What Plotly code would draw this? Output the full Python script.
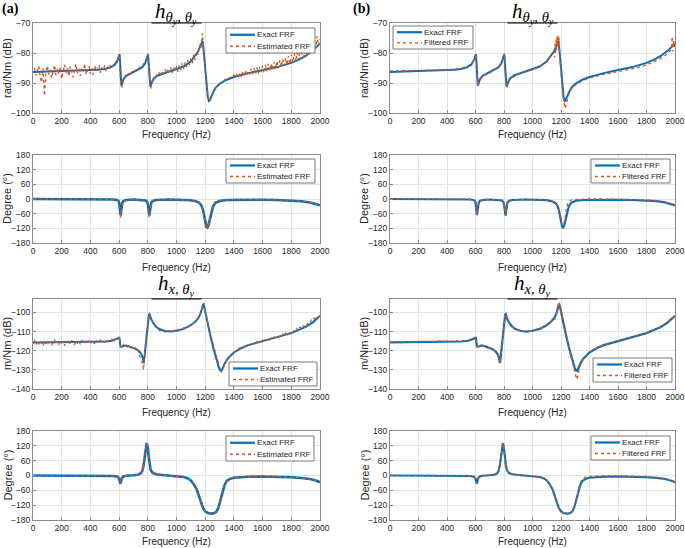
import plotly.graph_objects as go

W, H = 685, 548

# ---------------- data ----------------
# noisy estimate sampling grid (Hz)
freq_grid = [
    10, 20, 30, 40, 50, 60, 70, 80, 90, 100, 110, 120, 130, 140, 150, 160, 170, 180, 190, 200,
    210, 220, 230, 240, 250, 260, 270, 280, 290, 300, 310, 320, 330, 340, 350, 360, 370, 380, 390, 400,
    410, 420, 430, 440, 450, 460, 470, 480, 490, 500, 510, 520, 530, 540, 550, 560, 570, 580, 590, 600,
    610, 620, 630, 640, 650, 660, 670, 680, 690, 700, 710, 720, 730, 740, 750, 760, 770, 780, 790, 800,
    810, 820, 830, 840, 850, 860, 870, 880, 890, 900, 910, 920, 930, 940, 950, 960, 970, 980, 990, 1000,
    1010, 1020, 1030, 1040, 1050, 1060, 1070, 1080, 1090, 1100, 1110, 1120, 1130, 1140, 1150, 1160, 1170, 1180, 1190, 1200,
    1210, 1220, 1230, 1240, 1250, 1260, 1270, 1280, 1290, 1300, 1310, 1320, 1330, 1340, 1350, 1360, 1370, 1380, 1390, 1400,
    1410, 1420, 1430, 1440, 1450, 1460, 1470, 1480, 1490, 1500, 1510, 1520, 1530, 1540, 1550, 1560, 1570, 1580, 1590, 1600,
    1610, 1620, 1630, 1640, 1650, 1660, 1670, 1680, 1690, 1700, 1710, 1720, 1730, 1740, 1750, 1760, 1770, 1780, 1790, 1800,
    1810, 1820, 1830, 1840, 1850, 1860, 1870, 1880, 1890, 1900, 1910, 1920, 1930, 1940, 1950, 1960, 1970, 1980, 1990, 2000,
]

# h_{thy,thy} magnitude (dB) - estimated (noisy), panel (a)
est_tt_mag = [
    -85.0, -87.5, -86.2, -84.3, -87.9, -89.8, -85.1, -94.3, -86.6, -84.2, -87.1, -85.5, -88.3, -86.0, -84.0, -87.4, -85.2, -86.9, -84.6, -88.6,
    -85.8, -83.9, -86.7, -85.0, -87.8, -84.5, -86.3, -88.1, -85.4, -83.6, -86.8, -85.2, -87.6, -84.8, -86.1, -83.5, -87.2, -85.6, -84.4, -86.9,
    -85.1, -87.3, -84.2, -86.0, -85.3, -84.0, -86.6, -84.9, -85.7, -84.1, -86.2, -84.6, -85.3, -83.9, -84.8, -84.0, -83.6, -82.9, -81.8, -80.4,
    -89.0, -91.5, -88.7, -88.0, -87.2, -87.8, -86.6, -87.1, -86.2, -86.5, -85.7, -86.1, -85.2, -85.0, -84.6, -84.3, -83.8, -83.2, -81.8, -80.3,
    -88.0, -92.0, -89.5, -88.0, -88.6, -87.2, -87.9, -86.5, -87.6, -86.0, -87.1, -85.5, -86.8, -85.2, -86.4, -84.9, -86.7, -84.8, -85.9, -84.4,
    -86.3, -84.1, -85.6, -83.5, -85.3, -83.1, -84.6, -82.4, -84.0, -81.9, -83.4, -80.6, -82.3, -79.5, -80.6, -77.2, -78.6, -73.5, -80.0, -86.5,
    -91.0, -94.5, -96.0, -95.0, -93.6, -92.5, -91.6, -91.0, -90.5, -90.2, -89.8, -89.4, -89.2, -88.8, -88.7, -88.2, -88.4, -87.8, -88.1, -87.4,
    -88.3, -86.9, -87.8, -86.5, -88.0, -86.3, -87.5, -85.8, -87.6, -86.0, -87.2, -85.3, -87.0, -85.1, -86.8, -84.8, -86.9, -84.6, -86.4, -84.2,
    -86.7, -84.0, -86.1, -83.6, -86.0, -83.5, -85.6, -83.0, -85.4, -82.7, -85.1, -82.4, -84.6, -81.9, -84.3, -81.6, -84.0, -81.0, -83.7, -80.6,
    -83.2, -80.1, -82.9, -79.8, -82.3, -79.2, -81.9, -78.6, -81.5, -78.1, -80.7, -77.3, -80.2, -76.9, -79.4, -76.1, -78.3, -74.4, -77.6, -75.3,
]

# h_{x,thy} magnitude (dB) - estimated (noisy), panel (a)
est_xt_mag = [
    -114.2, -117.0, -115.3, -116.8, -114.6, -116.1, -117.6, -115.0, -116.4, -114.5, -116.9, -115.2, -117.3, -115.6, -114.3, -116.5, -115.1, -117.1, -114.8, -116.0,
    -115.4, -117.4, -114.9, -116.2, -115.0, -116.7, -114.6, -115.8, -116.9, -114.7, -116.3, -115.1, -116.6, -114.5, -115.9, -116.3, -114.8, -116.1, -115.0, -116.5,
    -114.6, -115.7, -116.2, -114.4, -115.5, -116.0, -114.3, -115.4, -114.9, -115.6, -114.2, -115.3, -114.5, -115.1, -114.0, -114.8, -113.9, -114.3, -113.5, -112.8,
    -117.6, -118.3, -116.9, -118.0, -117.2, -118.6, -117.4, -119.0, -117.8, -119.4, -118.3, -120.6, -119.8, -122.0, -123.5, -126.0, -130.0, -119.5, -111.5, -104.5,
    -100.9, -102.6, -104.3, -106.0, -107.1, -108.2, -108.6, -109.4, -109.3, -110.0, -109.6, -110.3, -109.8, -110.2, -109.5, -110.1, -109.4, -109.9, -109.2, -109.6,
    -108.8, -109.2, -108.5, -108.7, -108.0, -108.4, -107.5, -107.6, -106.8, -106.6, -106.0, -105.3, -104.7, -104.0, -102.8, -101.6, -99.8, -97.0, -95.0, -99.5,
    -103.5, -106.5, -109.5, -112.5, -115.3, -118.0, -121.2, -124.0, -127.0, -129.5, -131.3, -130.2, -128.0, -126.5, -125.2, -124.0, -122.8, -122.0, -121.2, -120.6,
    -120.2, -119.5, -119.3, -118.6, -118.7, -117.9, -118.2, -117.3, -117.6, -116.8, -117.2, -116.2, -116.7, -115.8, -116.1, -115.2, -115.8, -114.9, -115.3, -114.5,
    -115.0, -114.1, -114.6, -113.6, -114.3, -113.2, -113.9, -112.8, -113.4, -112.5, -113.0, -111.9, -112.6, -111.4, -112.1, -110.9, -111.5, -110.3, -111.0, -109.7,
    -110.5, -109.1, -109.8, -108.4, -109.0, -107.7, -108.3, -106.9, -107.4, -105.9, -106.5, -105.0, -105.4, -103.9, -104.3, -102.9, -103.3, -102.2, -102.4, -101.6,
]

# h_{thy,thy} magnitude exact
f_tt_mag = [0, 100, 200, 300, 400, 450, 500, 540, 570, 585, 595, 600, 603, 606, 609, 612, 616, 622, 630, 650,
            680, 720, 760, 780, 792, 798, 802, 805, 809, 813, 818, 825, 840, 870, 900, 950, 1000, 1050, 1100, 1130,
            1150, 1165, 1175, 1182, 1188, 1195, 1202, 1210, 1218, 1226, 1232, 1240, 1255, 1270, 1300, 1350, 1400, 1450, 1500, 1600,
            1700, 1800, 1850, 1900, 1950, 2000]
exact_tt_mag = [-86.3, -86.2, -86.1, -86.0, -85.8, -85.6, -85.3, -84.8, -83.9, -82.9, -81.8, -80.9, -80.4, -82.2, -86.5, -89.8, -90.9, -90.0, -88.8, -87.6,
                -86.9, -86.0, -84.8, -83.6, -82.2, -81.0, -80.4, -82.6, -87.0, -90.2, -91.2, -90.2, -88.6, -87.5, -87.0, -86.2, -85.5, -84.5, -82.8, -81.0,
                -79.5, -77.9, -76.6, -76.0, -78.5, -83.0, -87.5, -91.5, -94.6, -96.0, -95.8, -94.8, -93.0, -91.8, -90.3, -88.9, -88.0, -87.3, -86.7, -85.7,
                -84.7, -83.3, -82.3, -81.0, -79.2, -76.8]

# h_{thy,thy} magnitude filtered, panel (b)
f_tt_filt = [0, 100, 200, 300, 400, 500, 570, 595, 603, 606, 610, 617, 625, 650, 700, 760, 792, 802, 806, 810,
             820, 830, 850, 900, 1000, 1050, 1100, 1130, 1150, 1155, 1160, 1163, 1166, 1170, 1173, 1176, 1179, 1182, 1185, 1190,
             1200, 1210, 1220, 1228, 1234, 1242, 1255, 1270, 1300, 1350, 1400, 1500, 1600, 1700, 1800, 1900, 1950, 1975, 1980, 1985,
             1990, 1995, 2000]
filt_tt_mag = [-86.0, -85.9, -85.9, -85.8, -85.6, -85.1, -83.8, -81.7, -80.3, -82.5, -87.5, -91.0, -89.8, -87.7, -86.6, -84.9, -82.1, -80.2, -82.5, -87.5,
               -91.5, -89.8, -88.5, -87.0, -85.6, -84.6, -82.9, -81.2, -79.7, -81.5, -76.5, -79.8, -75.5, -79.0, -74.2, -78.0, -74.0, -77.5, -74.5, -80.5,
               -87.5, -92.5, -96.5, -98.5, -97.5, -95.8, -93.8, -92.3, -90.7, -89.3, -88.3, -87.1, -86.2, -85.3, -84.0, -81.8, -80.2, -78.8, -74.5, -79.5,
               -76.0, -78.0, -76.5]

# h_{thy,thy} phase (deg)
f_tt_ph = [0, 200, 400, 500, 560, 585, 595, 600, 604, 607, 610, 613, 617, 622, 630, 650, 700, 760, 785, 795,
           800, 804, 808, 811, 814, 818, 824, 835, 860, 950, 1050, 1100, 1140, 1160, 1175, 1185, 1195, 1202, 1208, 1215,
           1222, 1230, 1240, 1255, 1270, 1300, 1350, 1450, 1600, 1700, 1800, 1870, 1930, 1970, 2000]
exact_tt_ph = [0, 0, -0.5, -1, -2, -4, -8, -14, -28, -50, -66, -55, -30, -16, -8, -4, -2, -3, -6, -12,
               -20, -40, -62, -68, -55, -30, -15, -8, -4, -2, -3, -5, -10, -16, -28, -45, -75, -100, -114, -117,
               -110, -90, -60, -30, -16, -8, -4, -3, -3, -4, -6, -9, -14, -20, -26]

f_tt_ph_est = [0, 200, 400, 500, 560, 590, 600, 605, 608, 611, 614, 618, 625, 640, 700, 780, 795, 802, 806, 810,
               813, 817, 822, 830, 850, 950, 1050, 1100, 1140, 1160, 1175, 1185, 1192, 1198, 1203, 1208, 1213, 1218, 1222, 1226,
               1230, 1234, 1238, 1245, 1255, 1270, 1300, 1350, 1450, 1600, 1700, 1800, 1870, 1930, 1970, 2000]
est_tt_ph = [1, 0.5, 0, -1, -2, -6, -16, -40, -62, -76, -58, -30, -14, -6, -2, -5, -12, -30, -55, -74,
             -62, -35, -18, -9, -4, -2, -3, -5, -9, -15, -26, -45, -72, -100, -118, -122, -112, -120, -96, -108,
             -78, -92, -62, -40, -22, -12, -6, -3, -2, -2, -3, -5, -8, -13, -19, -25]

f_tt_ph_filt = [0, 200, 400, 500, 560, 590, 600, 604, 607, 610, 613, 617, 622, 630, 650, 700, 780, 795, 800, 804,
                808, 811, 814, 818, 824, 835, 860, 950, 1050, 1100, 1140, 1160, 1175, 1185, 1195, 1202, 1208, 1214, 1220, 1228,
                1236, 1248, 1262, 1280, 1320, 1400, 1500, 1600, 1700, 1800, 1870, 1930, 1970, 2000]
filt_tt_ph = [1, 1, 0.5, 0, -1, -5, -12, -26, -48, -64, -55, -30, -15, -7, -3, -1, -4, -10, -20, -40,
              -60, -68, -55, -30, -14, -6, -3, -1, -2, -4, -9, -15, -27, -45, -75, -100, -115, -119, -108, -80,
              -45, -18, -7, -3, -1, 0, 0, -1, -2, -4, -7, -12, -18, -25]

# h_{x,thy} magnitude exact
f_xt_mag = [0, 100, 200, 300, 400, 500, 550, 580, 595, 602, 606, 610, 620, 640, 660, 690, 720, 740, 755, 765,
            772, 780, 790, 800, 808, 812, 818, 825, 840, 860, 880, 920, 960, 1000, 1050, 1100, 1130, 1150, 1165, 1175,
            1182, 1187, 1192, 1200, 1210, 1225, 1240, 1260, 1280, 1295, 1305, 1312, 1320, 1335, 1355, 1380, 1400, 1450, 1500, 1600,
            1700, 1800, 1900, 1950, 2000]
exact_xt_mag = [-115.7, -115.6, -115.6, -115.5, -115.4, -115.2, -114.8, -114.2, -113.5, -113.0, -116.5, -117.8, -117.9, -117.3, -117.5, -118.2, -119.2, -120.3, -121.8, -123.8,
                -126.5, -121.0, -113.0, -105.5, -101.2, -100.9, -102.2, -103.8, -105.8, -107.6, -108.7, -109.7, -110.0, -109.6, -108.6, -106.7, -104.9, -103.2, -101.2, -99.0,
                -97.0, -95.5, -96.8, -99.8, -103.5, -108.5, -113.5, -119.5, -125.0, -128.7, -130.3, -130.5, -129.5, -126.8, -124.3, -122.3, -120.9, -118.7, -117.1, -115.0,
                -113.0, -110.8, -107.6, -105.2, -101.8]

f_xt_filt = [0, 10, 20, 100, 200, 300, 400, 500, 550, 580, 595, 602, 606, 610, 620, 640, 660, 690, 720, 740,
             755, 765, 772, 780, 790, 800, 808, 812, 818, 825, 840, 860, 880, 920, 960, 1000, 1050, 1100, 1130, 1150,
             1160, 1166, 1172, 1176, 1180, 1184, 1188, 1192, 1196, 1200, 1205, 1210, 1218, 1225, 1240, 1260, 1280, 1295, 1305, 1312,
             1320, 1335, 1355, 1380, 1400, 1450, 1500, 1600, 1700, 1800, 1900, 1950, 1990, 1995, 2000]
filt_xt_mag = [-115.3, -115.6, -115.4, -115.3, -115.3, -115.2, -115.1, -114.9, -114.5, -113.9, -113.2, -112.8, -116.3, -117.7, -117.8, -117.2, -117.4, -118.1, -119.1, -120.2,
               -121.7, -123.6, -126.3, -121.0, -113.0, -105.5, -101.2, -100.9, -102.2, -103.8, -105.8, -107.6, -108.7, -109.7, -110.0, -109.6, -108.6, -106.7, -104.9, -102.8,
               -103.5, -100.2, -98.4, -99.5, -95.5, -96.8, -94.3, -98.0, -97.0, -101.5, -99.8, -104.5, -106.0, -109.2, -114.0, -120.2, -126.0, -130.5, -133.5, -135.0,
               -132.5, -127.5, -124.5, -122.3, -120.8, -118.6, -117.0, -114.9, -112.9, -110.7, -107.5, -105.1, -102.8, -101.3, -102.0]

# h_{x,thy} phase (deg)
f_xt_ph = [0, 200, 400, 500, 560, 590, 600, 605, 609, 613, 620, 630, 650, 700, 730, 750, 762, 772, 780, 786,
           791, 795, 800, 806, 812, 820, 835, 860, 900, 950, 1000, 1050, 1080, 1100, 1120, 1140, 1155, 1170, 1185, 1200,
           1220, 1245, 1265, 1280, 1292, 1302, 1312, 1322, 1335, 1350, 1375, 1400, 1450, 1500, 1600, 1700, 1800, 1870, 1930, 1970,
           2000]
exact_xt_ph = [0, 0, 0, -1, -2, -5, -12, -25, -33, -24, -10, -4, -1, 1, 3, 8, 18, 45, 85, 115,
               127, 126, 112, 80, 45, 22, 10, 5, 2, 0, -2, -6, -12, -20, -35, -55, -80, -108, -132, -145,
               -152, -154, -152, -145, -130, -110, -85, -60, -38, -22, -13, -9, -6, -5, -4, -5, -7, -10, -14, -20,
               -27]

f_xt_ph_est = [0, 200, 400, 500, 560, 590, 600, 605, 609, 613, 620, 630, 650, 700, 730, 750, 758, 763, 768, 772,
               777, 782, 787, 791, 795, 800, 806, 812, 820, 835, 860, 900, 950, 1000, 1050, 1080, 1100, 1120, 1140, 1155,
               1170, 1185, 1200, 1220, 1245, 1265, 1280, 1292, 1300, 1306, 1311, 1316, 1322, 1328, 1335, 1350, 1375, 1400, 1450, 1500,
               1600, 1700, 1800, 1870, 1930, 1970, 2000]
est_xt_ph = [0, 0, 0, -1, -2, -5, -12, -25, -35, -24, -10, -4, -1, 1, 3, 8, 15, 35, 22, 55,
             80, 105, 120, 129, 126, 110, 80, 45, 22, 10, 5, 2, 0, -2, -6, -12, -20, -35, -55, -80,
             -108, -132, -145, -152, -154, -152, -145, -128, -115, -95, -100, -72, -68, -45, -35, -20, -12, -8, -6, -5,
             -4, -5, -7, -10, -14, -20, -27]

f_xt_ph_filt = [0, 200, 400, 500, 560, 590, 600, 605, 609, 613, 620, 630, 650, 700, 730, 750, 762, 772, 780, 786,
                791, 795, 800, 806, 812, 820, 835, 860, 900, 950, 1000, 1050, 1080, 1100, 1120, 1140, 1155, 1170, 1185, 1200,
                1220, 1245, 1265, 1278, 1290, 1300, 1310, 1320, 1332, 1345, 1365, 1390, 1450, 1500, 1600, 1700, 1800, 1870, 1930, 1970,
                2000]
filt_xt_ph = [1, 1, 1, 0, -1, -4, -11, -24, -32, -23, -9, -3, 0, 2, 4, 9, 19, 46, 86, 116,
              128, 127, 113, 81, 46, 23, 11, 6, 3, 1, -1, -5, -11, -19, -34, -54, -80, -108, -132, -146,
              -153, -156, -154, -147, -132, -112, -85, -58, -35, -18, -8, -4, -2, -1, -1, -2, -4, -8, -12, -19,
              -27]

for a, b in [(freq_grid, est_tt_mag), (freq_grid, est_xt_mag), (f_tt_mag, exact_tt_mag), (f_tt_filt, filt_tt_mag),
             (f_tt_ph, exact_tt_ph), (f_tt_ph_est, est_tt_ph), (f_tt_ph_filt, filt_tt_ph), (f_xt_mag, exact_xt_mag),
             (f_xt_filt, filt_xt_mag), (f_xt_ph, exact_xt_ph), (f_xt_ph_est, est_xt_ph), (f_xt_ph_filt, filt_xt_ph)]:
    assert len(a) == len(b), (len(a), len(b))

# ---------------- styling ----------------
BLUE = "#0072BD"
ORANGE = "#D95319"
FONT = "Arial, Liberation Sans, sans-serif"
TXT = "#262626"


def px_x(p):
    return p / W


def px_y(p):
    return 1 - p / H


col_dom = {"a": [33, 320], "b": [390, 675]}
row_dom = [(23, 113), (155, 243), (299, 389), (431, 520)]
y_ranges = [[-100, -70], [-180, 180], [-140, -93], [-180, 180]]
y_dticks = [10, 60, 10, 60]
y_titles = ["rad/Nm (dB)", "Degree (°)", "m/Nm (dB)", "Degree (°)"]
x_title_y = [134, 267, 412, 541]

fig = go.Figure()
layout = dict(width=W, height=H, margin=dict(l=0, r=0, t=0, b=0, autoexpand=False),
              paper_bgcolor="white", plot_bgcolor="white", showlegend=False,
              font=dict(family=FONT, size=10, color=TXT))
annotations = []
shapes = []

series = {
    (0, "a"): [(f_tt_mag, exact_tt_mag, "Exact FRF", 2.0), (freq_grid, est_tt_mag, "Estimated FRF", 1.3)],
    (0, "b"): [(f_tt_mag, exact_tt_mag, "Exact FRF", 2.0), (f_tt_filt, filt_tt_mag, "Filtered FRF", 1.3)],
    (1, "a"): [(f_tt_ph, exact_tt_ph, "Exact FRF", 2.6), (f_tt_ph_est, est_tt_ph, "Estimated FRF", 1.3)],
    (1, "b"): [(f_tt_ph, exact_tt_ph, "Exact FRF", 2.2), (f_tt_ph_filt, filt_tt_ph, "Filtered FRF", 1.3)],
    (2, "a"): [(f_xt_mag, exact_xt_mag, "Exact FRF", 2.0), (freq_grid, est_xt_mag, "Estimated FRF", 1.3)],
    (2, "b"): [(f_xt_mag, exact_xt_mag, "Exact FRF", 2.2), (f_xt_filt, filt_xt_mag, "Filtered FRF", 1.3)],
    (3, "a"): [(f_xt_ph, exact_xt_ph, "Exact FRF", 2.6), (f_xt_ph_est, est_xt_ph, "Estimated FRF", 1.3)],
    (3, "b"): [(f_xt_ph, exact_xt_ph, "Exact FRF", 2.2), (f_xt_ph_filt, filt_xt_ph, "Filtered FRF", 1.3)],
}
# legend boxes in pixels: (x0, y0, x1, y1)
legend_box = {
    (0, "a"): (226, 28, 315, 53),
    (0, "b"): (393, 26, 473, 49),
    (1, "a"): (226, 159, 315, 183),
    (1, "b"): (591, 159, 670, 183),
    (2, "a"): (229, 362, 317, 386),
    (2, "b"): (593, 358, 672, 382),
    (3, "a"): (226, 436, 314, 461),
    (3, "b"): (591, 436, 670, 460),
}

idx = 0
for r in range(4):
    for c in ["a", "b"]:
        idx += 1
        xa = "xaxis" if idx == 1 else f"xaxis{idx}"
        ya = "yaxis" if idx == 1 else f"yaxis{idx}"
        xref = "x" if idx == 1 else f"x{idx}"
        yref = "y" if idx == 1 else f"y{idx}"
        x0, x1 = col_dom[c]
        t0, t1 = row_dom[r]
        common = dict(showgrid=True, gridcolor="#e3e3e3", gridwidth=1, zeroline=False,
                      showline=True, linecolor="#8a8a8a", linewidth=1, mirror=True,
                      ticks="inside", ticklen=3, tickcolor="#8a8a8a", automargin=False,
                      ticklabeloverflow="allow",
                      tickfont=dict(family=FONT, size=8.5, color=TXT))
        layout[xa] = dict(domain=[px_x(x0), px_x(x1)], range=[0, 2000], dtick=200, tick0=0,
                          anchor=yref, **common)
        layout[ya] = dict(domain=[px_y(t1), px_y(t0)], range=y_ranges[r], dtick=y_dticks[r],
                          tick0=-180 if y_dticks[r] == 60 else -140, anchor=xref, **common)
        for (fx, fy, name, wid) in series[(r, c)]:
            is_exact = name == "Exact FRF"
            fig.add_trace(go.Scatter(
                x=fx, y=fy, name=name, mode="lines", xaxis=xref, yaxis=yref,
                line=dict(color=BLUE if is_exact else ORANGE, width=wid,
                          dash="solid" if is_exact else "dot"),
                hoverinfo="skip"))
        # legend drawn as a boxed key
        bx0, by0, bx1, by1 = legend_box[(r, c)]
        shapes.append(dict(type="rect", xref="paper", yref="paper",
                           x0=px_x(bx0), x1=px_x(bx1), y0=px_y(by1), y1=px_y(by0),
                           fillcolor="white", line=dict(color="#7a7a7a", width=1), layer="above"))
        hgt = by1 - by0
        for k, (fx, fy, name, wid) in enumerate(series[(r, c)]):
            is_exact = name == "Exact FRF"
            iy = by0 + hgt * (0.27 if k == 0 else 0.73)
            shapes.append(dict(type="line", xref="paper", yref="paper",
                               x0=px_x(bx0 + 4), x1=px_x(bx0 + 29), y0=px_y(iy), y1=px_y(iy),
                               line=dict(color=BLUE if is_exact else ORANGE, width=2.2 if is_exact else 1.3,
                                         dash="solid" if is_exact else "dot"), layer="above"))
            annotations.append(dict(x=px_x(bx0 + 29), y=px_y(iy), xref="paper", yref="paper", text=name,
                                    showarrow=False, xanchor="left", yanchor="middle",
                                    font=dict(family=FONT, size=8, color=TXT)))
        # axis titles
        annotations.append(dict(x=px_x((x0 + x1) / 2), y=px_y(x_title_y[r]), xref="paper", yref="paper",
                                text="Frequency (Hz)", showarrow=False, xanchor="center", yanchor="middle",
                                font=dict(family=FONT, size=10, color=TXT)))
        annotations.append(dict(x=px_x(7 if c == "a" else 364), y=px_y((t0 + t1) / 2), xref="paper", yref="paper",
                                text=y_titles[r], showarrow=False, textangle=-90, xanchor="center", yanchor="middle",
                                font=dict(family=FONT, size=11, color=TXT)))

# subplot titles
title_tt = "<i>h</i><sub><i>θ<sub>y</sub></i><i>, θ<sub>y</sub></i></sub>"
title_xt = "<i>h</i><sub><i>x, θ<sub>y</sub></i></sub>"
for c in ["a", "b"]:
    cx = sum(col_dom[c]) / 2
    for (ty, txt, line_y) in [(13, title_tt, 23), (285, title_xt, 299)]:
        annotations.append(dict(x=px_x(cx), y=px_y(ty), xref="paper", yref="paper", text=txt,
                                showarrow=False, xanchor="center", yanchor="middle",
                                font=dict(family="Liberation Serif, DejaVu Serif, serif", size=21, color="black")))
        shapes.append(dict(type="line", xref="paper", yref="paper",
                           x0=px_x(cx - 25), x1=px_x(cx + 25), y0=px_y(line_y), y1=px_y(line_y),
                           line=dict(color="black", width=1.2)))

annotations.append(dict(x=px_x(0), y=px_y(9), xref="paper", yref="paper", text="<b>(a)</b>",
                        showarrow=False, xanchor="left", yanchor="middle",
                        font=dict(family="Liberation Serif, serif", size=14, color="black")))
annotations.append(dict(x=px_x(351), y=px_y(9), xref="paper", yref="paper", text="<b>(b)</b>",
                        showarrow=False, xanchor="left", yanchor="middle",
                        font=dict(family="Liberation Serif, serif", size=14, color="black")))

layout["annotations"] = annotations
layout["shapes"] = shapes
fig.update_layout(**layout)
fig.write_html("out.html", config={"displayModeBar": False, "staticPlot": True},
               post_script="document.body.style.margin='0';document.body.style.padding='0';")
